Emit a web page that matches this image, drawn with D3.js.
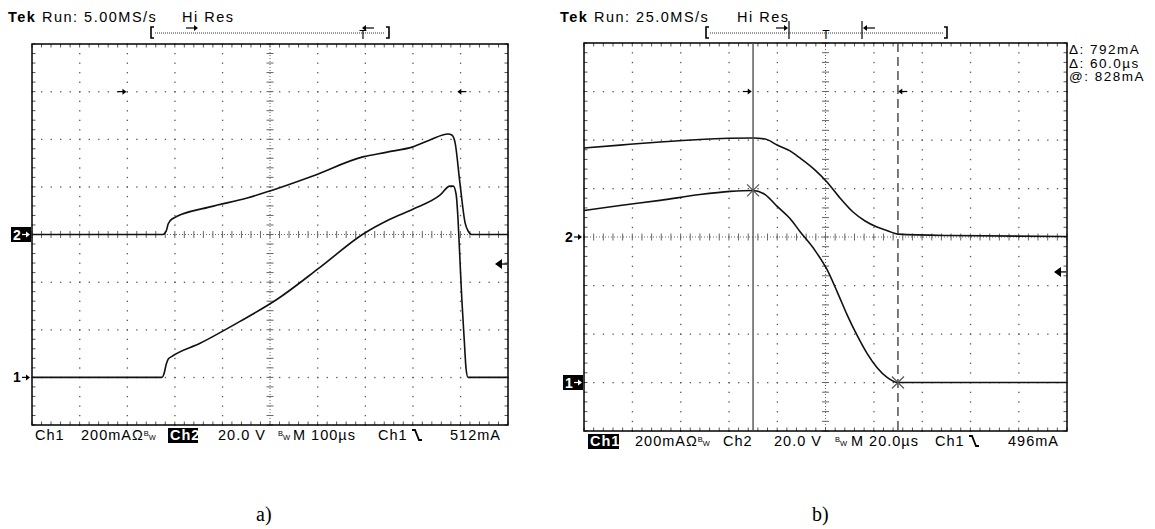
<!DOCTYPE html>
<html>
<head>
<meta charset="utf-8">
<script src="https://cdn.jsdelivr.net/npm/d3@7"></script>
<style>
body { margin: 0; background: #fff; }
text { font-family: "Liberation Sans", Arial, sans-serif; fill: #000; }
</style>
</head>
<body>
<div id="chart"></div>
<script>
// ---- data ----
// panel a) 100us/div, Ch1 200mA/div, Ch2 20V/div
var timeA1 = [0, 273, 277, 282, 286, 294, 353, 437, 515, 605, 695, 752, 800, 857, 878, 885, 891, 895, 899, 903, 908, 912, 916, 1000];
var ch1A   = [0, 0, 13, 55, 76, 88, 143, 235, 328, 462, 601, 664, 706, 765, 803, 803, 769, 664, 496, 328, 160, 34, 0, 0];
var timeA2 = [0, 275, 282, 286, 294, 374, 452, 500, 590, 695, 746, 800, 836, 874, 882, 889, 899, 910, 916, 924, 1000];
var ch2A   = [0, 0, 1.5, 4.4, 6.5, 11.6, 15.3, 18.3, 24.6, 32.6, 34.6, 36.8, 39.7, 42.2, 41.8, 38.4, 21.6, 4.8, 1.5, 0, 0];

// panel b) 20us/div
var timeB1 = [0, 14.9, 31.5, 48, 60.5, 70, 75, 80, 85.3, 89.4, 95.7, 100.6, 104.8, 108.9, 113.1, 117.2, 121.3, 125.5, 130, 200];
var ch1B   = [709, 730, 751, 775, 788, 792, 775, 726, 676, 623, 544, 466, 375, 280, 194, 120, 62, 21, 0, 0];
var timeB2 = [0, 14.9, 31.5, 48, 70, 75, 80, 85.3, 89.4, 95.7, 100.6, 106, 111.4, 116.4, 121.3, 125.9, 130, 151.6, 200];
var ch2B   = [36.7, 37.9, 39.2, 40.2, 40.8, 40.4, 37.9, 35.5, 32.6, 27.6, 22.7, 16.1, 10.3, 6.6, 4.1, 2.5, 1.2, 0.6, 0.2];

var cursorsB = [70, 130];          // us
var cursorText = ["\u0394: 792mA", "\u0394: 60.0\u00b5s", "@: 828mA"];

var svg = d3.select("#chart").append("svg")
    .attr("width", 1155)
    .attr("height", 529);

function zip(t, v) { return t.map(function (d, i) { return [d, v[i]]; }); }

// small arrow: dir = 1 points right, -1 points left
function arrow(g, x, y, dir, len, col) {
    col = col || "#000";
    var tip = x + dir * len / 2;
    g.append("line").attr("x1", x - dir * len / 2).attr("x2", tip - dir * 2).attr("y1", y).attr("y2", y)
        .attr("stroke", col).attr("stroke-width", 1.2);
    g.append("path").attr("d", "M" + tip + "," + y + "l" + (-dir * 4) + ",-3v6z").attr("fill", col);
}

function scope(p) {
    var g = svg.append("g");
    var x = d3.scaleLinear().domain([0, p.tmax]).range([p.left, p.left + p.w]);
    var xd = d3.scaleLinear().domain([0, 10]).range([p.left, p.left + p.w]);
    var yd = d3.scaleLinear().domain([-4, 4]).range([p.top + p.h, p.top]);
    // ch1 ground at -3 div (200mA/div), ch2 ground at centre (20V/div)
    var y1 = d3.scaleLinear().domain([-200, 1400]).range([p.top + p.h, p.top]);
    var y2 = d3.scaleLinear().domain([-80, 80]).range([p.top + p.h, p.top]);

    var grid = g.append("g").attr("fill", "#555");
    var minorX = d3.range(0, 10.001, 0.2), minorY = d3.range(-4, 4.001, 0.2);
    d3.range(1, 10).filter(function (i) { return i != 5; }).forEach(function (i) {
        grid.selectAll(null).data(minorY).enter().append("rect")
            .attr("x", xd(i) - 0.5).attr("y", function (d) { return yd(d) - 0.5; })
            .attr("width", 1.3).attr("height", 1.3);
    });
    d3.range(-3, 4).filter(function (j) { return j != 0; }).forEach(function (j) {
        grid.selectAll(null).data(minorX).enter().append("rect")
            .attr("x", function (d) { return xd(d) - 0.5; }).attr("y", yd(j) - 0.5)
            .attr("width", 1.3).attr("height", 1.3);
    });

    // centre cross
    var cross = g.append("g").attr("stroke", "#666").attr("stroke-width", 1);
    cross.append("line").attr("x1", xd(0)).attr("x2", xd(10)).attr("y1", yd(0)).attr("y2", yd(0))
        .attr("stroke-dasharray", "1,2");
    cross.append("line").attr("x1", xd(5)).attr("x2", xd(5)).attr("y1", yd(-4)).attr("y2", yd(4))
        .attr("stroke-dasharray", "1,2");
    cross.selectAll(null).data(minorX).enter().append("line")
        .attr("x1", function (d) { return xd(d); }).attr("x2", function (d) { return xd(d); })
        .attr("y1", yd(0) - 3.5).attr("y2", yd(0) + 3.5);
    cross.selectAll(null).data(minorY).enter().append("line")
        .attr("y1", function (d) { return yd(d); }).attr("y2", function (d) { return yd(d); })
        .attr("x1", xd(5) - 3.5).attr("x2", xd(5) + 3.5);

    // border ticks
    var bt = g.append("g").attr("stroke", "#555").attr("stroke-width", 1);
    bt.selectAll(null).data(minorX).enter().append("line")
        .attr("x1", function (d) { return xd(d); }).attr("x2", function (d) { return xd(d); })
        .attr("y1", yd(4)).attr("y2", yd(4) + 3.5);
    bt.selectAll(null).data(minorX).enter().append("line")
        .attr("x1", function (d) { return xd(d); }).attr("x2", function (d) { return xd(d); })
        .attr("y1", yd(-4)).attr("y2", yd(-4) - 3.5);
    bt.selectAll(null).data(minorY).enter().append("line")
        .attr("y1", function (d) { return yd(d); }).attr("y2", function (d) { return yd(d); })
        .attr("x1", xd(0)).attr("x2", xd(0) + 3.5);
    bt.selectAll(null).data(minorY).enter().append("line")
        .attr("y1", function (d) { return yd(d); }).attr("y2", function (d) { return yd(d); })
        .attr("x1", xd(10)).attr("x2", xd(10) - 3.5);

    g.append("rect")
        .attr("x", p.left).attr("y", p.top).attr("width", p.w).attr("height", p.h)
        .attr("fill", "none").attr("stroke", "#000").attr("stroke-width", 1.5);

    // traces
    var line1 = d3.line().x(function (d) { return x(d[0]); }).y(function (d) { return y1(d[1]); }).curve(d3.curveMonotoneX);
    var line2 = d3.line().x(function (d) { return x(d[0]); }).y(function (d) { return y2(d[1]); }).curve(d3.curveMonotoneX);
    g.append("path").datum(zip(p.t2, p.ch2)).attr("d", line2)
        .attr("fill", "none").attr("stroke", "#111").attr("stroke-width", 1.6);
    g.append("path").datum(zip(p.t1, p.ch1)).attr("d", line1)
        .attr("fill", "none").attr("stroke", "#111").attr("stroke-width", 1.6);

    // header
    var head = g.append("text").attr("x", p.hx).attr("y", 22).attr("font-size", 14.5).attr("letter-spacing", 1.5);
    head.append("tspan").attr("font-weight", "bold").text("Tek");
    head.append("tspan").text(" Run: " + p.rate);
    g.append("text").attr("x", p.hx + p.hiOff).attr("y", 22).attr("font-size", 14.5).attr("letter-spacing", 1.5).text("Hi Res");

    // record bracket
    var br = g.append("g");
    br.append("line").attr("x1", p.br[0] + 5).attr("x2", p.br[1] - 5).attr("y1", 33).attr("y2", 33)
        .attr("stroke", "#333").attr("stroke-dasharray", "1,1");
    br.append("path").attr("d", "M" + (p.br[0] + 4) + ",27h-3v11h3").attr("fill", "none").attr("stroke", "#000").attr("stroke-width", 1.6);
    br.append("path").attr("d", "M" + (p.br[1] - 4) + ",27h3v11h-3").attr("fill", "none").attr("stroke", "#000").attr("stroke-width", 1.6);
    p.brArrows.forEach(function (m) { arrow(br, m[0], 28, m[1], 12); });
    br.append("text").attr("x", p.brT).attr("y", 39).attr("font-size", 12)
        .attr("text-anchor", "middle").text("T");
    (p.brBars || []).forEach(function (b) {
        br.append("line").attr("x1", b).attr("x2", b).attr("y1", 21).attr("y2", 39)
            .attr("stroke", "#000").attr("stroke-width", 1.2);
    });

    // small position arrows inside the screen
    p.arrows.forEach(function (a) { arrow(g, xd(a[0]), yd(3), a[1], 9); });

    // trigger level marker at the right
    var tx = xd(10) - 1, ty = yd(p.trig);
    g.append("path").attr("d", "M" + (tx - 12) + "," + ty + "l7,-5v10z").attr("fill", "#000");
    g.append("line").attr("x1", tx - 6).attr("x2", tx).attr("y1", ty).attr("y2", ty).attr("stroke", "#000").attr("stroke-width", 1.3);

    // channel ground markers
    function mark(num, lvl, inv) {
        var yy = yd(lvl), col = inv ? "#fff" : "#000";
        if (inv) {
            g.append("rect").attr("x", p.left - 21).attr("y", yy - 7.5).attr("width", 20).attr("height", 15).attr("fill", "#000");
        }
        g.append("text").attr("x", p.left - 19).attr("y", yy + 5).attr("font-size", 14).attr("font-weight", "bold")
            .style("fill", col).text(num);
        arrow(g, p.left - 6, yy, 1, 8, col);
    }
    mark("2", 0, p.inv == 2);
    mark("1", -3, p.inv == 1);

    // bottom status line
    var by = p.top + p.h + 15;
    var st = g.append("g").attr("font-size", 14.5).attr("letter-spacing", 1);
    p.status.forEach(function (s) {
        if (s.box) {
            st.append("rect").attr("x", s.x - 2).attr("y", by - 12).attr("width", s.box).attr("height", 15).attr("fill", "#000");
        }
        var t = st.append("text").attr("x", s.x).attr("y", by).style("fill", s.box ? "#fff" : "#000")
            .attr("font-weight", s.box ? "bold" : "normal");
        t.append("tspan").text(s.t);
        if (s.bw) {
            t.append("tspan").attr("font-size", 7.5).attr("dy", -4).attr("letter-spacing", 0).text("B");
            t.append("tspan").attr("font-size", 7.5).attr("dy", 4).attr("letter-spacing", 0).text("W");
        }
    });
    // falling slope symbol
    var sx = p.slopeX;
    st.append("path").attr("d", "M" + sx + "," + (by - 10) + "h3l4,10h3")
        .attr("fill", "none").attr("stroke", "#000").attr("stroke-width", 1.8);

    return { g: g, x: x, xd: xd, yd: yd, y1: y1, y2: y2 };
}

var a = scope({
    left: 32, top: 44, w: 476, h: 381, tmax: 1000,
    t1: timeA1, ch1: ch1A, t2: timeA2, ch2: ch2A,
    hx: 8, hiOff: 174, rate: "5.00MS/s",
    br: [150, 390], brArrows: [[192, 1], [368, -1]], brT: 363,
    arrows: [[1.89, 1], [9.03, -1]],
    trig: -0.62, inv: 2,
    status: [
        { x: 35, t: "Ch1" },
        { x: 81, t: "200mA\u03a9", bw: true },
        { x: 170, t: "Ch2", box: 30 },
        { x: 218, t: "20.0 V" },
        { x: 278, t: "", bw: true },
        { x: 293, t: "M 100\u00b5s" },
        { x: 378, t: "Ch1" },
        { x: 450, t: "512mA" }
    ],
    slopeX: 412
});

var b = scope({
    left: 584, top: 43, w: 483, h: 388, tmax: 200,
    t1: timeB1, ch1: ch1B, t2: timeB2, ch2: ch2B,
    hx: 560, hiOff: 177, rate: "25.0MS/s",
    br: [705, 948], brArrows: [[782, 1], [869, -1]], brT: 826,
    brBars: [789, 862],
    arrows: [[3.38, 1], [6.6, -1]],
    trig: -0.72, inv: 1,
    status: [
        { x: 590, t: "Ch1", box: 31 },
        { x: 635, t: "200mA\u03a9", bw: true },
        { x: 723, t: "Ch2" },
        { x: 774, t: "20.0 V" },
        { x: 835, t: "", bw: true },
        { x: 851, t: "M 20.0\u00b5s" },
        { x: 935, t: "Ch1" },
        { x: 1008, t: "496mA" }
    ],
    slopeX: 969
});

// cursors on panel b
b.g.append("line").attr("x1", b.x(cursorsB[0])).attr("x2", b.x(cursorsB[0]))
    .attr("y1", b.yd(4)).attr("y2", b.yd(-4)).attr("stroke", "#444").attr("stroke-width", 1.3);
b.g.append("line").attr("x1", b.x(cursorsB[1])).attr("x2", b.x(cursorsB[1]))
    .attr("y1", b.yd(4)).attr("y2", b.yd(-4)).attr("stroke", "#333").attr("stroke-width", 1.3)
    .attr("stroke-dasharray", "9,5");
cursorsB.forEach(function (c) {
    var cx = b.x(c), cy = b.y1(ch1B[timeB1.indexOf(c)]);
    b.g.append("path").attr("d", "M" + (cx - 6) + "," + (cy - 6) + "l12,12M" + (cx + 6) + "," + (cy - 6) + "l-12,12")
        .attr("stroke", "#555").attr("stroke-width", 1.2);
});
b.g.selectAll(null).data(cursorText).enter().append("text")
    .attr("x", 1069).attr("y", function (d, i) { return 54 + i * 13.5; })
    .attr("font-size", 13.5).attr("letter-spacing", 1.5).text(function (d) { return d; });

// captions
svg.append("text").attr("x", 256).attr("y", 521).attr("font-size", 20)
    .style("font-family", "'Liberation Serif', 'Times New Roman', serif").text("a)");
svg.append("text").attr("x", 812).attr("y", 521).attr("font-size", 20)
    .style("font-family", "'Liberation Serif', 'Times New Roman', serif").text("b)");
</script>
</body>
</html>
